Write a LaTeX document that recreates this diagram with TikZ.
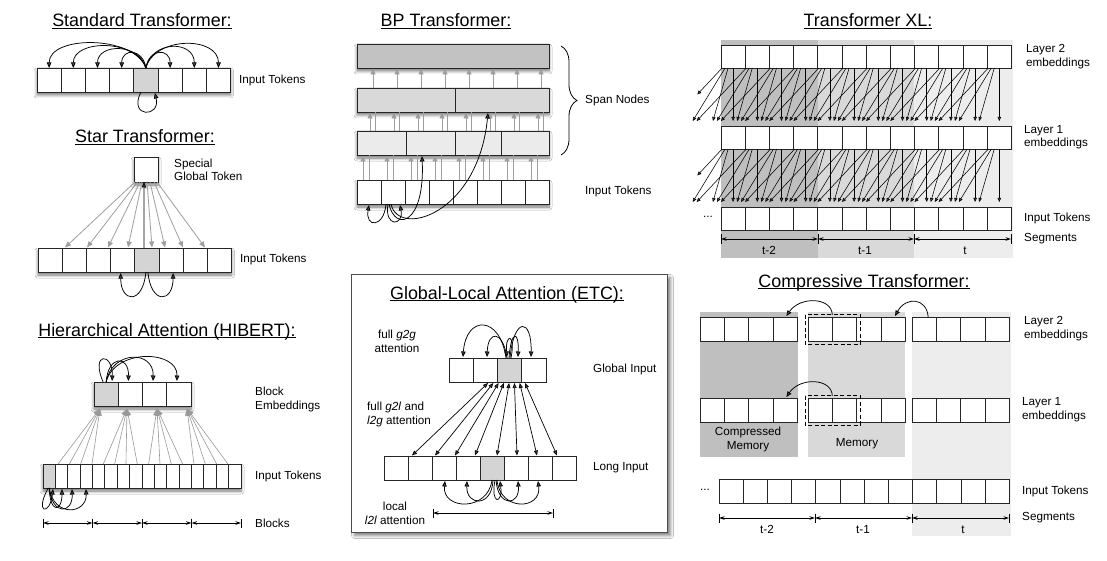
\documentclass[tikz,border=0pt]{standalone}
\usepackage{fontspec}
\setmainfont{Liberation Sans}
\usetikzlibrary{arrows.meta,shadows.blur,decorations.pathreplacing,calc}
\tikzset{
  cell/.style={draw=black!85, line width=0.8pt, fill=white, inner sep=0pt, outer sep=0pt, anchor=north west, minimum width=24.2pt, minimum height=24pt},
  lbl/.style={font=\fontsize{11.7}{13.6}\selectfont, align=left, anchor=west, inner sep=0pt},
  clbl/.style={font=\fontsize{11.7}{13.6}\selectfont, align=center, inner sep=0pt},
  blbl/.style={font=\fontsize{11.7}{13.6}\selectfont, anchor=base, inner sep=0pt},
  ttl/.style={font=\fontsize{17.9}{21}\selectfont, inner sep=0pt},
  arr/.style={-{Triangle[length=5.5pt,width=4.5pt]}, line width=0.75pt},
  darr/.style={{Triangle[length=5pt,width=4pt]}-{Triangle[length=5pt,width=4pt]}, line width=0.7pt},
  sarr/.style={-{Triangle[length=4pt,width=3.4pt]}, line width=0.55pt},
  garr/.style={-{Triangle[length=6pt,width=5pt]}, draw=black!38, line width=0.8pt},
  hgarr/.style={-{Triangle[length=7pt,width=5.5pt]}, draw=black!40, line width=0.6pt},
  gline/.style={draw=black!38, line width=0.8pt},
  shad/.style={fill=white, blur shadow={shadow xshift=0pt, shadow yshift=-3pt, shadow blur radius=3pt, shadow blur steps=8, shadow opacity=55}},
  dimline/.style={{Stealth[length=5.5pt,width=3.5pt]}-{Stealth[length=5.5pt,width=3.5pt]}, line width=0.7pt},
  dimbar/.style={line width=0.7pt},
}
\newcommand\mydim[3]{%
  \draw[dimline] (#1,#3) -- (#2,#3);
  \draw[dimbar] (#1,#3-4.5) -- (#1,#3+4.5);
  \draw[dimbar] (#2,#3-4.5) -- (#2,#3+4.5);}
\newcommand\ttlu[1]{\underline{\smash{#1}}}
\newcommand\myrow[7]{%
  \foreach \ii in {0,...,#6}{%
    \ifnum\ii=#7\relax\def\fc{black!17}\else\def\fc{white}\fi
    \node[cell, fill=\fc, minimum width=#4pt, minimum height=#5pt] (#1\ii) at ({#2+#4*\ii},#3) {};
  }}
\begin{document}
\begin{tikzpicture}[x=1pt,y=-1pt]
\fill[white] (0,0) rectangle (1107,561);
\useasboundingbox (0,0) rectangle (1107,561);

% ---------------- Standard Transformer
\node[ttl] (t1) at (142,28) {\ttlu{Standard Transformer:}};
\path[shad] (37,68) rectangle (230.6,92);
\myrow{st}{37}{68}{24.2}{24}{7}{4}
\foreach \q/\hh in {0/33,1/29,2/25,3/20,5/20,6/28,7/32}
  \draw[arr] (st4.north) .. controls ($(st4.north)+({0.12*(\q-4)*24.2},-\hh)$) and ($(st\q.north)+(0,-\hh)$) .. (st\q.north);
\draw[arr] ($(st4.south)+(-5,0)$) .. controls ($(st4.south)+(-18,26)$) and ($(st4.south)+(15,26)$) .. ($(st4.south)+(9,1)$);
\node[lbl] (stl) at (239,80) {Input Tokens};

% ---------------- Star Transformer
\node[ttl] (t2) at (145,144) {\ttlu{Star Transformer:}};
\path[shad] (134,157) rectangle (158,182);
\node[cell, minimum width=24pt, minimum height=25pt] (gt) at (134,157) {};
\node[lbl] (gtl) at (174,170) {Special\\Global Token};
\path[shad] (38,248) rectangle (231.6,272);
\myrow{sr}{38}{248}{24.2}{24}{7}{4}
\foreach \sa/\ea in {135/65,137.5/87,140/108,142/128,147/152,150/165,154/183,157/205}
  \draw[garr] (\sa,182) -- (\ea,247.5);
\draw[arr] ($(sr4.north)+(-3,0)$) -- ($(gt.south)+(-2,0)$);
\draw[arr] ($(sr4.south)+(-1,0)$) .. controls ($(sr4.south)+(-4,33)$) and ($(sr3.south)+(-2,31)$) .. ($(sr3.south)+(-2,1)$);
\draw[arr] ($(sr4.south)+(1,0)$) .. controls ($(sr4.south)+(4,33)$) and ($(sr5.south)+(2,31)$) .. ($(sr5.south)+(2,1)$);
\node[lbl] (srl) at (240,259) {Input Tokens};

% ---------------- HIBERT
\node[ttl] (t3) at (167,337) {\ttlu{Hierarchical Attention (HIBERT):}};
\path[shad] (94,382) rectangle (191,406);
\myrow{hb}{94}{382}{24.25}{24}{3}{0}
\path[shad] (43,464) rectangle (241,488);
\myrow{hi}{43}{464}{12.375}{24}{15}{0}
\foreach \bb/\cx in {0/100,1/127,2/157,3/187}
  \foreach \kk in {0,...,3}
    \draw[hgarr] ({58+11.33*(4*\bb+\kk)},464) -- (\cx,408.5);
\draw[arr] ($(hb0.north)+(-3,0)$) .. controls (90,352) and (113,352) .. ($(hb0.north)+(6,-1)$);
\draw[arr] (hb0.north) .. controls (108,355) and (129,355) .. ($(hb1.north)+(-2,-1)$);
\draw[arr] (hb0.north) .. controls (112,350) and (154,350) .. ($(hb2.north)+(-1.6,-1)$);
\draw[arr] (hb0.north) .. controls (115,348) and (178,350) .. ($(hb3.north)+(-2,-1)$);
\draw[arr] ($(hi0.south)+(-1,0)$) .. controls (34,514) and (50,516) .. (53,489);
\draw[arr] (hi0.south) .. controls (50,514) and (62,512) .. (62,489);
\draw[arr] (hi0.south) .. controls (52,516) and (73,514) .. (72,489);
\draw[arr] (hi0.south) .. controls (54,518) and (87,514) .. (86,489);
\mydim{43}{92.5}{523}
\mydim{92.5}{142}{523}
\mydim{142}{191.5}{523}
\mydim{191.5}{241}{523}
\node[lbl] (hbl) at (255,399.5) {Block\\Embeddings};
\node[lbl] (hil) at (255,476) {Input Tokens};
\node[lbl] (hdl) at (255,523) {Blocks};

% ---------------- BP Transformer
\node[ttl] (t4) at (446,28) {\ttlu{BP Transformer:}};
\path[shad] (357,44) rectangle (549,68);
\node[cell, fill=black!24, minimum width=192pt] (bp3) at (357,44) {};
\path[shad] (357,88) rectangle (549,112);
\node[cell, fill=black!15, minimum width=98pt] (bp2a) at (357,88) {};
\node[cell, fill=black!15, minimum width=94pt] (bp2b) at (455,88) {};
\path[shad] (357,131) rectangle (549,155);
\node[cell, fill=black!8, minimum width=49pt] (bp1a) at (357,131) {};
\node[cell, fill=black!8, minimum width=49pt] (bp1b) at (406,131) {};
\node[cell, fill=black!8, minimum width=46pt] (bp1c) at (455,131) {};
\node[cell, fill=black!8, minimum width=48pt] (bp1d) at (501,131) {};
\path[shad] (357,180) rectangle (549,204);
\myrow{bpi}{357}{180}{24}{24}{7}{-1}
\foreach \ii in {0,...,7}{
  \draw[garr] ({357+24*\ii+6},180) -- ({357+24*\ii+6},155.5);
  \draw[gline] ({357+24*\ii+12},180) -- ({357+24*\ii+12},155);
  \draw[garr] ({357+24*\ii+13},131) -- ({357+24*\ii+13},112.5);
  \draw[gline] ({357+24*\ii+18},131) -- ({357+24*\ii+18},112);
  \draw[garr] ({357+24*\ii+16},88) -- ({357+24*\ii+16},68.5);
}
\draw[arr] (386,204) .. controls (384,228) and (365,228) .. ($(bpi0.south)+(0,1)$);
\draw[arr] (388,204) .. controls (384,228) and (404,226) .. (400,205);
\draw[arr] (389,204) .. controls (395,232) and (425,225) .. ($(bp1b.south)+(-8.5,1)$);
\draw[arr] (391,204) .. controls (398,238) and (478,215) .. ($(bp2b.south)+(-14,1)$);
\draw[decorate, decoration={brace, amplitude=16pt}, line width=0.8pt] (561,46) -- (561,155);
\node[lbl] (bpl) at (585,100) {Span Nodes};
\node[lbl] (bpil) at (585,191) {Input Tokens};

% ---------------- ETC
\node[draw=black!70, line width=1pt, fill=white, anchor=north west, inner sep=0pt, minimum width=316pt, minimum height=258pt, blur shadow={shadow xshift=3pt, shadow yshift=-3pt, shadow blur radius=3pt, shadow opacity=50}] (etcf) at (351,274) {};
\node[ttl] (t5) at (507,300) {\ttlu{Global-Local Attention (ETC):}};
\myrow{eg}{449}{358}{24.25}{24}{3}{2}
\draw[arr] (506,358) .. controls (500,315) and (466,315) .. (463,357);
\draw[arr] (507,358) .. controls (503,330) and (488,330) .. (487,357);
\draw[arr] (511,358) .. controls (516,333) and (505,333) .. (507,357);
\draw[arr] (509,358) .. controls (511,330) and (519,330) .. (518,357);
\draw[arr] (510,358) .. controls (514,316) and (532,318) .. (531,357);
\node[clbl] (g2g) at (397,341.5) {full \textit{g2g}\\attention};
\node[lbl] (gil) at (593,369) {Global Input};
\node[lbl] (g2l) at (367,414.5) {full \textit{g2l} and\\\textit{l2g} attention};
\myrow{el}{384}{456}{24.1}{24}{7}{4}
\foreach \kk/\ea in {0/412,1/435,2/455,3/475,4/497,5/517,6/537,7/557}
  \draw[darr] ({488+\kk*37/7},383) -- (\ea,455.5);
\node[lbl] (lil) at (593,468) {Long Input};
\draw[arr] (492,480) .. controls (488,512) and (442,510) .. (445,481);
\draw[arr] (493,480) .. controls (492,508) and (466,506) .. (467,481);
\draw[arr] (495,480) .. controls (490,505) and (503,505) .. (500,481);
\draw[arr] (496,480) .. controls (498,508) and (520,506) .. (518,481);
\draw[arr] (497,480) .. controls (500,512) and (542,510) .. (538,481);
\mydim{433}{553}{513}
\node[clbl] (l2l) at (395,513.5) {local\\\textit{l2l} attention};

% ---------------- Transformer XL
\node[ttl] (t6) at (868,28) {\ttlu{Transformer XL:}};
\fill[black!25] (721,40) rectangle (818,258);
\fill[black!15] (818,40) rectangle (914,258);
\fill[black!7] (914,40) rectangle (1013,258);
\myrow{xb}{721}{45}{24.2}{23}{11}{-1}
\myrow{xa}{721}{126}{24.2}{23}{11}{-1}
\myrow{xi}{721}{207}{24.2}{23}{11}{-1}
\foreach \jx in {0,...,11}{
  \foreach \dd in {0,...,3}{
    \pgfmathsetmacro\xs{721+24.2*(\jx+0.5)-(\dd>0)*(2+3*\dd)}
    \pgfmathsetmacro\xe{721+24.2*(\jx-\dd+0.5)+4*\dd}
    \pgfmathsetmacro\fr{1-0.5*(\xe<680)}
    \draw[sarr] (\xs,68) -- ({\xs+\fr*(\xe-\xs)},{68+\fr*53});
    \draw[sarr] (\xs,149) -- ({\xs+\fr*(\xe-\xs)},{149+\fr*53});
  }
}
\node[clbl] (xdots) at (708,217) {...};
\node[lbl] (xl2) at (1026,56.5) {Layer 2\\embeddings};
\node[lbl] (xl1) at (1024,137) {Layer 1\\embeddings};
\node[lbl] (xil) at (1024,218) {Input Tokens};
\node[lbl] (xsl) at (1024,239) {Segments};
\mydim{721}{818}{239}
\mydim{818}{914}{239}
\mydim{914}{1011}{239}
\node[blbl] (xs2) at (769,254.5) {t-2};
\node[blbl] (xs1) at (865,254.5) {t-1};
\node[blbl] (xs0) at (965,254.5) {t};

% ---------------- Compressive Transformer
\node[ttl] (t7) at (864,288) {\ttlu{Compressive Transformer:}};
\fill[black!25] (700,312) rectangle (798,457);
\fill[black!15] (808,312) rectangle (905,457);
\fill[black!7] (912,312) rectangle (1011,536);
\myrow{ca}{700}{317}{24.4}{24}{3}{-1}
\myrow{cb}{808}{317}{24.3}{24}{3}{-1}
\myrow{cc}{912}{317}{24.3}{24}{3}{-1}
\myrow{da}{700}{398}{24.4}{24}{3}{-1}
\myrow{db}{808}{398}{24.3}{24}{3}{-1}
\myrow{dc}{912}{398}{24.3}{24}{3}{-1}
\draw[dash pattern=on 4pt off 2.5pt, line width=0.9pt] (805,314.5) rectangle (860,344);
\draw[dash pattern=on 4pt off 2.5pt, line width=0.9pt] (805,395.5) rectangle (860,425);
\draw[arr] ($(cb0.north east)+(0,-2)$) .. controls (832,297) and (800,296) .. ($(ca3.north)+(1,-1)$);
\draw[arr] ($(cc0.north)+(4,0)$) .. controls (927,298) and (906,296) .. ($(cb3.north)+(2,-1)$);
\draw[arr] ($(db0.north east)+(0,-2)$) .. controls (832,378) and (800,377) .. ($(da3.north)+(1,-1)$);
\node[clbl] (cml) at (748,439.5) {Compressed\\Memory};
\node[clbl] (ml) at (857,444) {Memory};
\myrow{ci}{719}{479}{24.2}{24}{11}{-1}
\node[clbl] (cdots) at (705,490) {...};
\mydim{719}{815}{518}
\mydim{815}{912}{518}
\mydim{912}{1009}{518}
\node[blbl] (cs2) at (767,533.5) {t-2};
\node[blbl] (cs1) at (863,533.5) {t-1};
\node[blbl] (cs0) at (963,533.5) {t};
\node[lbl] (cl2) at (1024,328.5) {Layer 2\\embeddings};
\node[lbl] (cl1) at (1022,409.5) {Layer 1\\embeddings};
\node[lbl] (cil) at (1022,491) {Input Tokens};
\node[lbl] (csl) at (1022,518) {Segments};
\end{tikzpicture}
\end{document}
